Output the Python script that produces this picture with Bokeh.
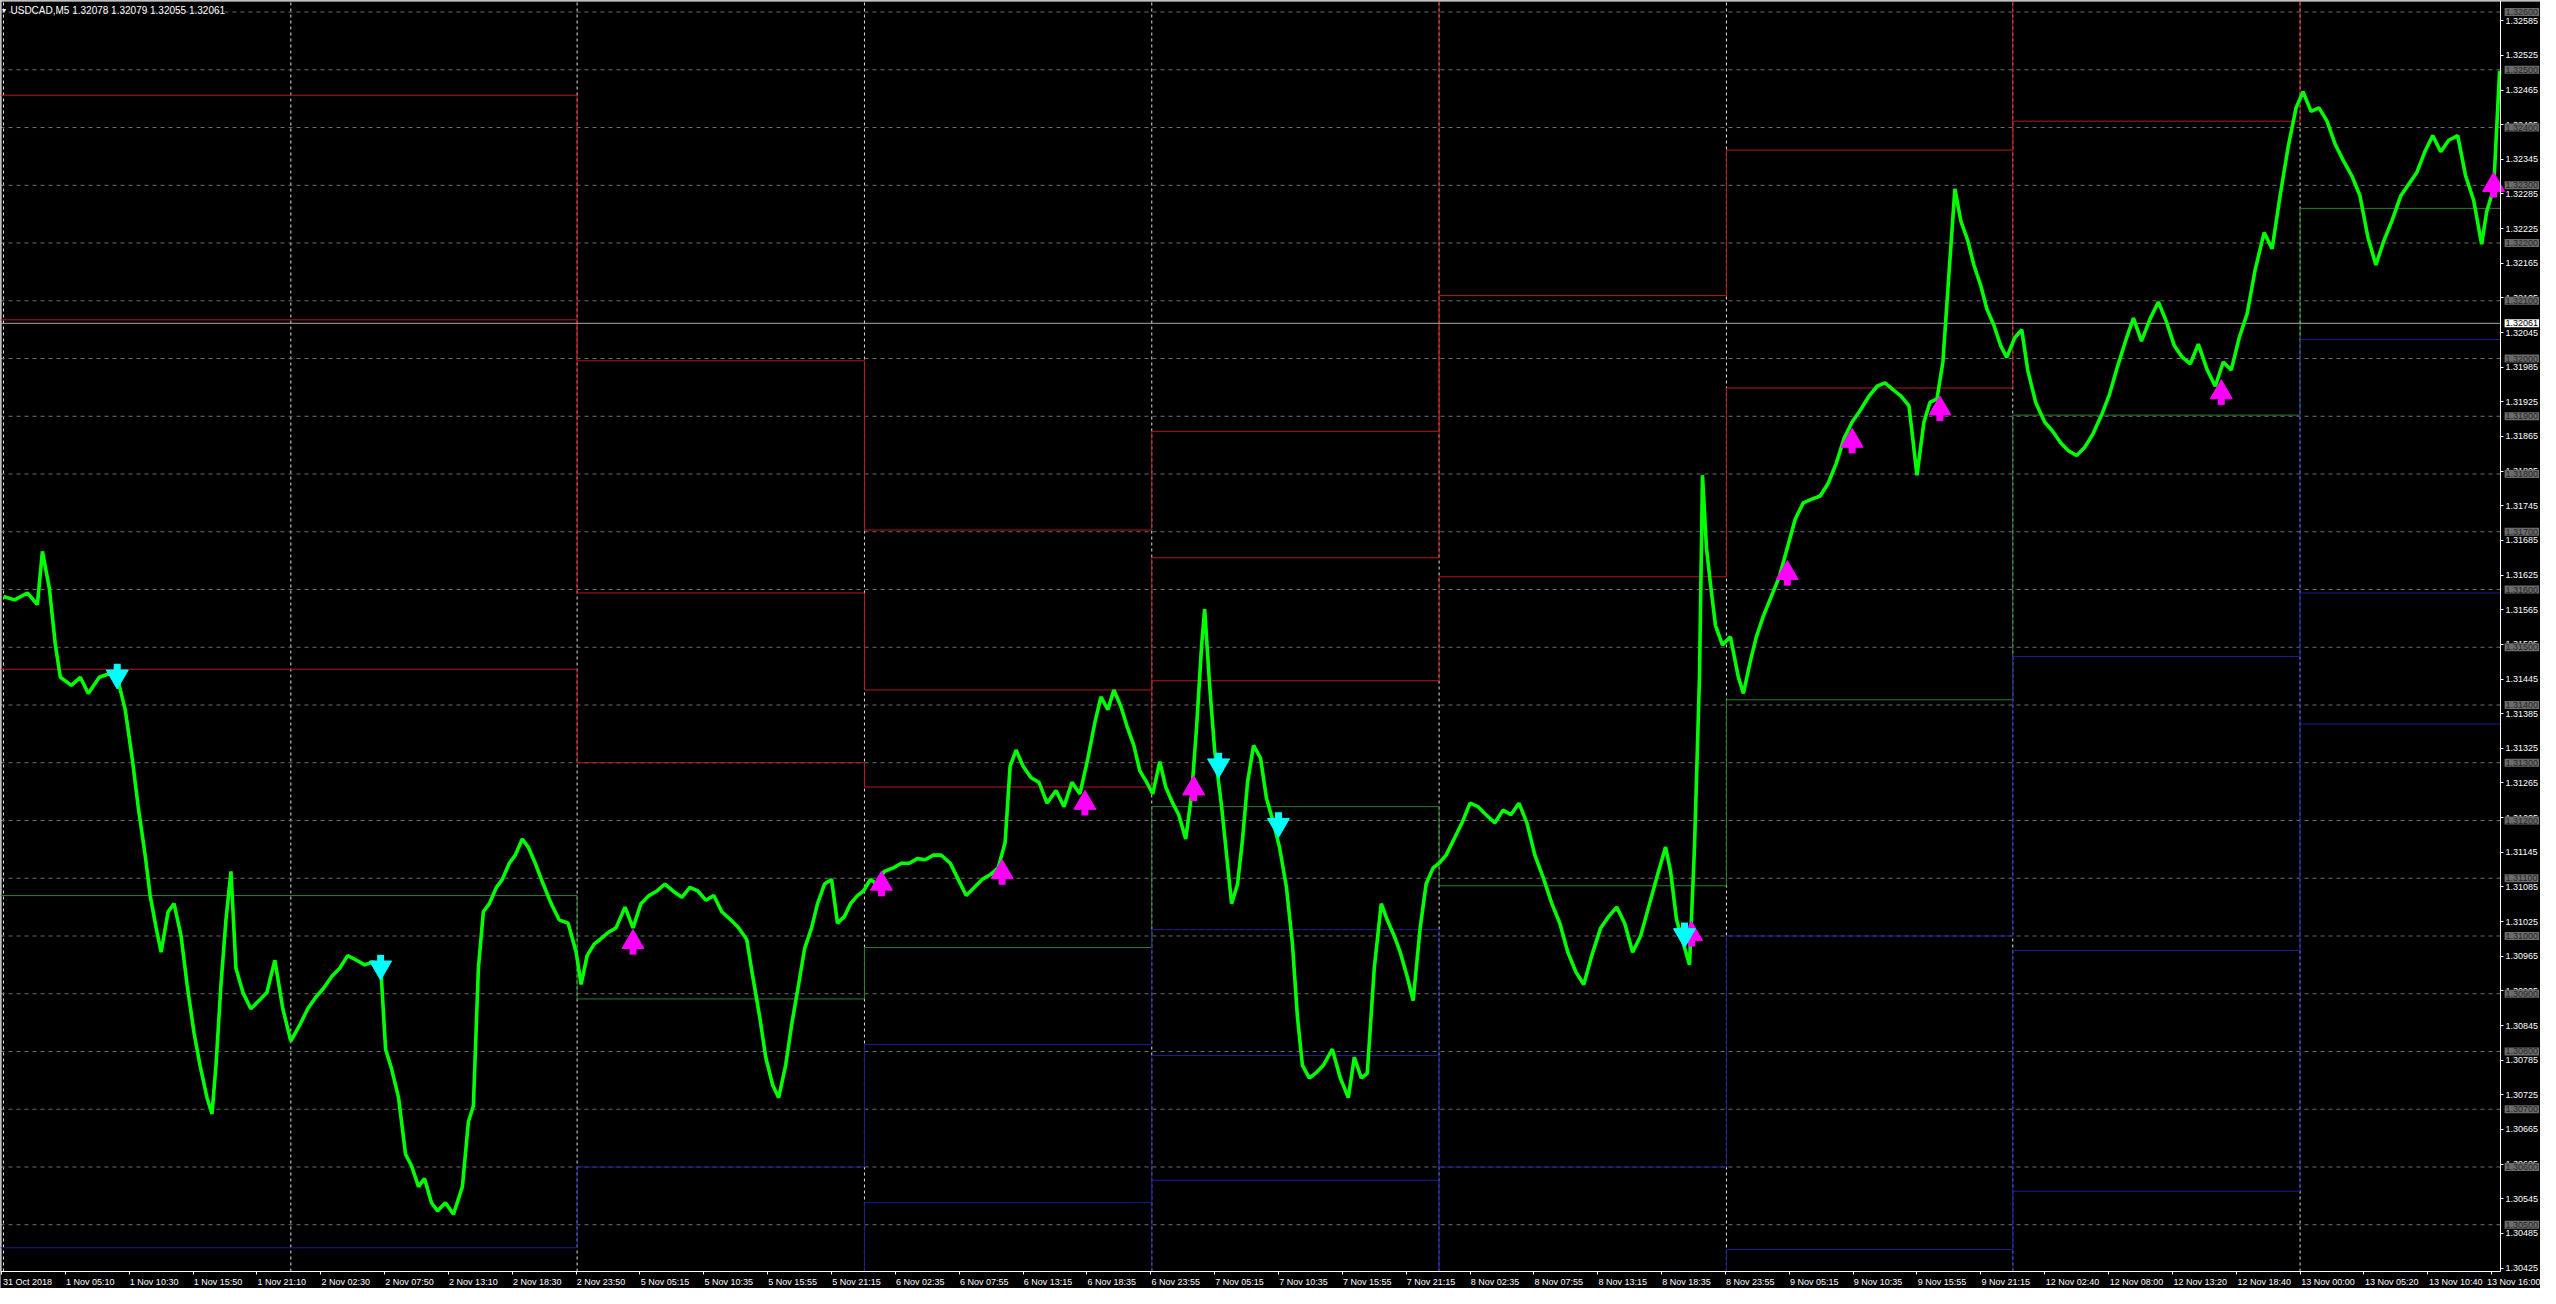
from bokeh.plotting import figure
from bokeh.models import Range1d, FixedTicker, Label, Span, PrintfTickFormatter, LinearAxis
from bokeh.embed import file_html
from bokeh.resources import INLINE

# ---------------- data ----------------
bar_idx = [2, 13, 26, 36, 41, 48, 54, 59, 70, 79, 87, 98, 108, 116, 124, 131, 137, 144, 149, 155,
           160, 167, 173, 180, 186, 193, 199, 206, 211, 215, 220, 225, 230, 235, 242, 250, 258, 266, 274, 282,
           290, 299, 307, 315, 323, 331, 339, 347, 356, 364, 372, 380, 385, 391, 398, 405, 411, 418, 424, 431,
           437, 445, 453, 462, 468, 473, 478, 483, 489, 496, 502, 509, 515, 522, 528, 535, 543, 551, 559, 568,
           576, 581, 587, 594, 600, 608, 616, 625, 633, 641, 649, 657, 665, 673, 682, 690, 698, 706, 714, 722,
           731, 739, 747, 753, 760, 766, 773, 779, 786, 792, 799, 805, 812, 818, 825, 832, 838, 845, 851, 858,
           864, 871, 877, 885, 894, 902, 910, 918, 926, 934, 942, 951, 959, 967, 975, 983, 991, 999, 1006, 1011,
           1017, 1024, 1032, 1040, 1048, 1057, 1065, 1073, 1081, 1089, 1096, 1102, 1109, 1115, 1122, 1128, 1135, 1141, 1148, 1154,
           1161, 1167, 1174, 1180, 1187, 1193, 1198, 1203, 1206, 1211, 1216, 1223, 1228, 1233, 1239, 1244, 1249, 1255, 1262, 1268,
           1275, 1281, 1288, 1294, 1299, 1304, 1311, 1317, 1325, 1334, 1342, 1350, 1356, 1363, 1369, 1376, 1383, 1389, 1396, 1402,
           1409, 1415, 1422, 1428, 1435, 1441, 1448, 1456, 1464, 1472, 1480, 1488, 1497, 1505, 1513, 1521, 1529, 1537, 1546, 1554,
           1562, 1570, 1578, 1586, 1594, 1603, 1611, 1619, 1627, 1635, 1643, 1651, 1660, 1668, 1673, 1679, 1686, 1692, 1697, 1702,
           1705, 1709, 1713, 1718, 1725, 1733, 1741, 1746, 1753, 1759, 1766, 1774, 1782, 1790, 1798, 1806, 1814, 1823, 1831, 1839,
           1847, 1855, 1863, 1872, 1880, 1888, 1896, 1904, 1912, 1920, 1927, 1933, 1940, 1946, 1951, 1958, 1964, 1971, 1977, 1984,
           1990, 1997, 2004, 2010, 2018, 2025, 2031, 2039, 2048, 2056, 2064, 2072, 2080, 2088, 2096, 2105, 2113, 2121, 2129, 2137,
           2145, 2154, 2162, 2170, 2178, 2186, 2194, 2202, 2211, 2219, 2227, 2235, 2243, 2251, 2259, 2268, 2276, 2284, 2292, 2300,
           2307, 2315, 2323, 2331, 2339, 2347, 2356, 2364, 2372, 2380, 2388, 2396, 2405, 2413, 2421, 2429, 2437, 2445, 2453, 2462,
           2470, 2478, 2486, 2491, 2498, 2504]
price = [1.31588, 1.31582, 1.31594, 1.31574, 1.31666, 1.31602, 1.31504, 1.31448, 1.31434, 1.31448, 1.31420, 1.31448, 1.31454, 1.31448, 1.31392, 1.31308, 1.31224, 1.31140, 1.31070, 1.31014,
         1.30972, 1.31042, 1.31056, 1.31000, 1.30916, 1.30832, 1.30776, 1.30720, 1.30692, 1.30776, 1.30916, 1.31028, 1.31112, 1.30944, 1.30902, 1.30874, 1.30888, 1.30902, 1.30958, 1.30874,
         1.30818, 1.30846, 1.30874, 1.30894, 1.30910, 1.30930, 1.30944, 1.30966, 1.30958, 1.30950, 1.30955, 1.30950, 1.30804, 1.30770, 1.30720, 1.30622, 1.30602, 1.30566, 1.30580, 1.30538,
         1.30524, 1.30538, 1.30518, 1.30566, 1.30678, 1.30706, 1.30944, 1.31042, 1.31056, 1.31084, 1.31098, 1.31126, 1.31140, 1.31168, 1.31154, 1.31126, 1.31090, 1.31056, 1.31028, 1.31022,
         1.30972, 1.30916, 1.30966, 1.30986, 1.30994, 1.31006, 1.31014, 1.31050, 1.31014, 1.31056, 1.31070, 1.31078, 1.31090, 1.31078, 1.31067, 1.31084, 1.31078, 1.31062, 1.31070, 1.31042,
         1.31028, 1.31014, 1.30994, 1.30930, 1.30860, 1.30790, 1.30742, 1.30720, 1.30776, 1.30846, 1.30916, 1.30978, 1.31014, 1.31056, 1.31090, 1.31098, 1.31022, 1.31034, 1.31056, 1.31070,
         1.31078, 1.31098, 1.31090, 1.31112, 1.31118, 1.31126, 1.31126, 1.31134, 1.31132, 1.31140, 1.31140, 1.31126, 1.31098, 1.31070, 1.31084, 1.31098, 1.31106, 1.31118, 1.31162, 1.31294,
         1.31322, 1.31294, 1.31274, 1.31266, 1.31230, 1.31252, 1.31224, 1.31266, 1.31246, 1.31308, 1.31370, 1.31414, 1.31392, 1.31426, 1.31398, 1.31364, 1.31330, 1.31286, 1.31266, 1.31246,
         1.31302, 1.31258, 1.31230, 1.31210, 1.31168, 1.31246, 1.31364, 1.31504, 1.31566, 1.31434, 1.31322, 1.31224, 1.31140, 1.31056, 1.31090, 1.31168, 1.31266, 1.31330, 1.31308, 1.31238,
         1.31196, 1.31154, 1.31084, 1.30986, 1.30860, 1.30776, 1.30754, 1.30762, 1.30776, 1.30804, 1.30754, 1.30720, 1.30790, 1.30754, 1.30762, 1.30944, 1.31056, 1.31028, 1.31000, 1.30972,
         1.30930, 1.30888, 1.31014, 1.31090, 1.31118, 1.31126, 1.31140, 1.31168, 1.31196, 1.31230, 1.31224, 1.31210, 1.31196, 1.31218, 1.31210, 1.31230, 1.31196, 1.31140, 1.31098, 1.31056,
         1.31022, 1.30972, 1.30938, 1.30916, 1.30966, 1.31014, 1.31034, 1.31050, 1.31022, 1.30972, 1.31000, 1.31050, 1.31106, 1.31154, 1.31112, 1.31028, 1.30986, 1.30950, 1.31154, 1.31448,
         1.31798, 1.31672, 1.31610, 1.31538, 1.31504, 1.31518, 1.31448, 1.31420, 1.31476, 1.31518, 1.31554, 1.31588, 1.31622, 1.31672, 1.31722, 1.31750, 1.31756, 1.31762, 1.31784, 1.31818,
         1.31862, 1.31890, 1.31910, 1.31935, 1.31952, 1.31958, 1.31946, 1.31935, 1.31918, 1.31798, 1.31890, 1.31924, 1.31930, 1.31994, 1.32120, 1.32294, 1.32238, 1.32204, 1.32162, 1.32126,
         1.32086, 1.32058, 1.32022, 1.32002, 1.32036, 1.32050, 1.31980, 1.31924, 1.31890, 1.31874, 1.31854, 1.31840, 1.31832, 1.31846, 1.31868, 1.31902, 1.31938, 1.31986, 1.32030, 1.32070,
         1.32030, 1.32070, 1.32098, 1.32064, 1.32022, 1.32002, 1.31991, 1.32025, 1.31980, 1.31952, 1.31994, 1.31980, 1.32036, 1.32078, 1.32154, 1.32218, 1.32190, 1.32282, 1.32366, 1.32434,
         1.32462, 1.32428, 1.32434, 1.32411, 1.32372, 1.32344, 1.32316, 1.32282, 1.32210, 1.32162, 1.32204, 1.32238, 1.32282, 1.32302, 1.32322, 1.32358, 1.32386, 1.32358, 1.32378, 1.32386,
         1.32316, 1.32274, 1.32198, 1.32254, 1.32294, 1.32498]

time_labels = ["31 Oct 2018", "1 Nov 05:10", "1 Nov 10:30", "1 Nov 15:50", "1 Nov 21:10", "2 Nov 02:30",
               "2 Nov 07:50", "2 Nov 13:10", "2 Nov 18:30", "2 Nov 23:50", "5 Nov 05:15", "5 Nov 10:35",
               "5 Nov 15:55", "5 Nov 21:15", "6 Nov 02:35", "6 Nov 07:55", "6 Nov 13:15", "6 Nov 18:35",
               "6 Nov 23:55", "7 Nov 05:15", "7 Nov 10:35", "7 Nov 15:55", "7 Nov 21:15", "8 Nov 02:35",
               "8 Nov 07:55", "8 Nov 13:15", "8 Nov 18:35", "8 Nov 23:55", "9 Nov 05:15", "9 Nov 10:35",
               "9 Nov 15:55", "9 Nov 21:15", "12 Nov 02:40", "12 Nov 08:00", "12 Nov 13:20", "12 Nov 18:40",
               "13 Nov 00:00", "13 Nov 05:20", "13 Nov 10:40", "13 Nov 16:00"]
bars_per_label = 64
day_start_bars = [2, 290, 577, 865, 1153, 1441, 1729, 2016, 2304]

price_ticks = [round(1.30425 + 0.0006 * i, 5) for i in range(37)]
level_lines = [round(1.305 + 0.001 * i, 3) for i in range(22)]
last_price = 1.32061
title_text = "USDCAD,M5  1.32078 1.32079 1.32055 1.32061"

# daily pivot levels (None = outside the visible range)
period_start = [-1, 577, 865, 1153, 1441, 1729, 2016, 2304]
period_end = 2505
R3 = [1.32456, 1.31996, 1.31703, 1.31874, None, None, None, None]
R2 = [1.32067, 1.31594, 1.31426, 1.31655, 1.32109, 1.32361, None, None]
R1 = [1.31462, 1.31300, 1.31258, 1.31442, 1.31622, 1.31949, 1.32411, None]
PP = [1.31070, 1.30891, 1.30980, 1.31224, 1.31087, 1.31409, 1.31902, 1.32260]
S1 = [1.30460, 1.30600, 1.30812, 1.31011, 1.30600, 1.31000, 1.31484, 1.32033]
S2 = [None, None, 1.30538, 1.30793, None, 1.30457, 1.30975, 1.31594]
S3 = [None, None, None, 1.30577, None, None, 1.30558, 1.31367]

buy_bars = [633, 882, 1003, 1086, 1195, 1694, 1790, 1855, 1943, 2225, 2498]
buy_price = [1.31011, 1.31112, 1.31132, 1.31252, 1.31277, 1.31025, 1.31650, 1.31879, 1.31935, 1.31963, 1.32322]
sell_bars = [116, 380, 1220, 1280, 1687]
sell_price = [1.31428, 1.30924, 1.31274, 1.31171, 1.30980]

# ---------------- figure ----------------
W, H = 2540, 1288
AXIS_Y = 1271                      # canvas row of the time axis
y_lo, y_hi = 1.30419, 1.32620      # visible price span (axis line .. top)
ppx = (y_hi - y_lo) / AXIS_Y
y_bottom = y_lo - (H - AXIS_Y) * ppx
x_lo, x_hi = -1, 2545
px_per_bar = W / (x_hi - x_lo)
scale_x = 2505                     # bar position of the price scale
FONT = "Liberation Sans"
FS = "9px"

p = figure(width=W, height=H, x_range=Range1d(x_lo, x_hi), y_range=Range1d(y_bottom, y_hi),
           x_axis_location=None, y_axis_location=None, output_backend="svg", toolbar_location=None,
           background_fill_color="black", border_fill_color="black",
           min_border_left=0, min_border_top=0, min_border_right=0, min_border_bottom=0,
           outline_line_color=None)
p.xgrid.visible = False
p.ygrid.visible = False

# day separators
n_d = len(day_start_bars)
p.segment(day_start_bars, [y_lo] * n_d, day_start_bars, [y_hi] * n_d,
          line_color="#e0e0e0", line_width=1, line_dash="3 3")

# horizontal price levels (dashed) up to the price scale
n_l = len(level_lines)
p.segment([x_lo] * n_l, level_lines, [scale_x] * n_l, level_lines,
          line_color="#6e6e6e", line_width=1, line_dash="4 4")

# frame borders (top / left)
p.add_layout(Span(location=y_hi, dimension="width", line_color="white", line_width=2))
p.segment([x_lo], [y_lo], [x_lo], [y_hi], line_color="white", line_width=2)

# pivot levels
def draw_levels(series, color):
    hx0, hx1, hy = [], [], []
    vx, vy0, vy1 = [], [], []
    n = len(series)
    mid = (y_lo + y_hi) / 2
    for i, v in enumerate(series):
        x0 = period_start[i]
        x1 = period_start[i + 1] if i + 1 < n else period_end
        if v is not None:
            hx0.append(x0); hx1.append(x1); hy.append(v)
        if i > 0:
            a, b = series[i - 1], v
            if a is None and b is None:
                continue
            ca = a if a is not None else (y_hi if b > mid else y_lo)
            cb = b if b is not None else (y_hi if a > mid else y_lo)
            vx.append(x0); vy0.append(ca); vy1.append(cb)
    p.segment(hx0, hy, hx1, hy, line_color=color, line_width=1)
    p.segment(vx, vy0, vx, vy1, line_color=color, line_width=1)

for s in (R3, R2, R1):
    draw_levels(s, "#b31b1b")
draw_levels(PP, "#2f7d2f")
for s in (S1, S2, S3):
    draw_levels(s, "#1c1c96")

# current price line
p.segment([x_lo], [last_price], [scale_x], [last_price], line_color="#a8a8a8", line_width=1)

# price
p.line(bar_idx, price, line_color="#00ff00", line_width=3.6, line_join="bevel")

# arrows
p.segment(buy_bars, [v - 15 * ppx for v in buy_price], buy_bars, [v - 25 * ppx for v in buy_price],
          line_color="#ff00ff", line_width=7)
p.scatter(buy_bars, [v - 12.5 * ppx for v in buy_price], marker="triangle", size=22,
          fill_color="#ff00ff", line_color="#ff00ff")
p.segment(sell_bars, [v + 15 * ppx for v in sell_price], sell_bars, [v + 25 * ppx for v in sell_price],
          line_color="#00ffff", line_width=7)
p.scatter(sell_bars, [v + 12.5 * ppx for v in sell_price], marker="inverted_triangle", size=22,
          fill_color="#00ffff", line_color="#00ffff")

# level labels on the price scale
lab_x = scale_x + 4 / px_per_bar
for lv in level_lines:
    p.add_layout(Label(x=lab_x, y=lv, x_units="data", y_units="data", text=f"{lv:.5f}",
                       text_font=FONT, text_font_size=FS, text_color="#262626",
                       text_baseline="middle", background_fill_color="#6b6b6b", padding=1))
p.add_layout(Label(x=lab_x, y=last_price, x_units="data", y_units="data",
                   text=f"{last_price:.5f}", text_font=FONT, text_font_size=FS, text_color="black",
                   text_baseline="middle", background_fill_color="white", padding=1))

# price scale (right), fixed at the right end of the chart
ya = LinearAxis(fixed_location=scale_x, ticker=FixedTicker(ticks=price_ticks),
                formatter=PrintfTickFormatter(format="%.5f"), bounds=(y_lo, y_hi))
p.add_layout(ya, "right")

# time axis: line + ticks
xa = LinearAxis(fixed_location=y_lo, bounds=(x_lo, scale_x),
                ticker=FixedTicker(ticks=[i * bars_per_label for i in range(len(time_labels))]))
xa.major_label_overrides = {i * bars_per_label: "" for i in range(len(time_labels))}
p.add_layout(xa, "below")

# time labels, left-aligned to their ticks (label centre shifted by half its width)
CW = {" ": 2.78, ":": 2.78, "N": 7.22, "o": 5.56, "v": 5.0, "O": 7.78, "c": 5.0, "t": 2.78}
def text_w(s):
    return sum(CW.get(ch, 5.56) for ch in s) * 0.9
lab_pos = [int(round(i * bars_per_label + (1 + text_w(t) / 2) / px_per_bar)) for i, t in enumerate(time_labels)]
xl = LinearAxis(fixed_location=y_lo, ticker=FixedTicker(ticks=lab_pos))
xl.major_label_overrides = {pos: t for pos, t in zip(lab_pos, time_labels)}
xl.axis_line_color = None
xl.major_tick_line_color = None
p.add_layout(xl, "below")

for ax in (xa, ya, xl):
    if ax is not xl:
        ax.axis_line_color = "white"
        ax.major_tick_line_color = "white"
    ax.major_tick_out = 3
    ax.major_tick_in = 0
    ax.minor_tick_line_color = None
    ax.major_label_text_color = "white"
    ax.major_label_text_font = FONT
    ax.major_label_text_font_size = FS
    ax.major_label_standoff = 2

# title
p.add_layout(Label(x=0, y=H - 10, x_units="screen", y_units="screen", text="\u25bc",
                   text_font=FONT, text_font_size="7px", text_color="white", text_baseline="middle"))
p.add_layout(Label(x=10, y=H - 10, x_units="screen", y_units="screen", text=title_text,
                   text_font=FONT, text_font_size="10px", text_color="white", text_baseline="middle"))

open("out.html", "w").write(file_html(p, INLINE))
